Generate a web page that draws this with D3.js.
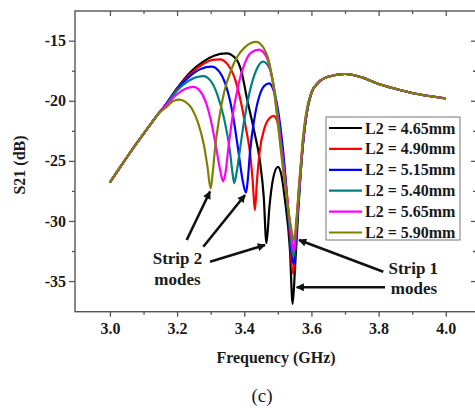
<!DOCTYPE html>
<html>
<head>
<meta charset="utf-8">
<script src="https://cdn.jsdelivr.net/npm/d3@7"></script>
<style>
  html, body { margin: 0; padding: 0; background: #fff; }
  svg { display: block; }
  text { font-family: "Liberation Serif", "Times New Roman", serif; }
</style>
</head>
<body>
<svg id="chart" width="475" height="408"></svg>
<script>
// ---------- data ----------
const seriesLabels = ["L2 = 4.65mm", "L2 = 4.90mm", "L2 = 5.15mm", "L2 = 5.40mm", "L2 = 5.65mm", "L2 = 5.90mm"];
const seriesColors = ["#000000", "#ff0000", "#0000ff", "#008080", "#ff00ff", "#808000"];

// shared low-frequency rise (GHz, dB)
const startFreq = [3.00, 3.025, 3.05, 3.075, 3.10, 3.125, 3.145];
const startS21  = [-26.8, -25.75, -24.72, -23.72, -22.75, -21.8, -21.05];

// shared high-frequency tail (GHz, dB)
const tailFreq = [3.60, 3.62, 3.65, 3.70, 3.75, 3.80, 3.85, 3.90, 3.95, 4.00];
const tailS21  = [-19.35, -18.5, -18.0, -17.77, -18.05, -18.6, -19.0, -19.35, -19.6, -19.8];

// resonance region of each series: [GHz, dB]
const midL465 = [[3.16,-20.55],[3.20,-18.95],[3.24,-17.6],[3.28,-16.7],[3.31,-16.25],[3.347,-16.05],[3.375,-16.5],[3.392,-17.6],[3.407,-19.66],[3.43,-22.6],[3.446,-24.9],[3.458,-28.0],[3.466,-31.85],[3.475,-28.8],[3.485,-26.6],[3.50,-25.5],[3.51,-26.1],[3.521,-28.2],[3.536,-32.4],[3.544,-36.9],[3.551,-34.0],[3.56,-29.5],[3.572,-24.5],[3.585,-21.2]];
const midL490 = [[3.16,-20.55],[3.20,-19.0],[3.24,-17.75],[3.28,-16.9],[3.305,-16.6],[3.327,-16.55],[3.35,-16.95],[3.37,-18.0],[3.39,-20.1],[3.405,-22.3],[3.417,-24.3],[3.425,-26.6],[3.4315,-29.1],[3.438,-26.6],[3.446,-24.2],[3.46,-22.3],[3.475,-21.45],[3.488,-21.26],[3.50,-21.9],[3.513,-23.8],[3.528,-28.0],[3.546,-34.4],[3.553,-31.5],[3.562,-27.5],[3.572,-24.3],[3.585,-21.2]];
const midL515 = [[3.16,-20.55],[3.20,-19.05],[3.24,-17.9],[3.27,-17.35],[3.303,-17.15],[3.325,-17.55],[3.345,-18.7],[3.365,-21.0],[3.382,-24.1],[3.395,-26.6],[3.405,-27.65],[3.411,-26.4],[3.417,-24.3],[3.43,-21.5],[3.445,-19.6],[3.46,-18.75],[3.474,-18.55],[3.488,-19.2],[3.50,-20.7],[3.515,-24.0],[3.53,-29.0],[3.547,-33.6],[3.555,-31.0],[3.565,-27.0],[3.575,-23.5],[3.59,-20.4]];
const midL540 = [[3.16,-20.6],[3.20,-19.15],[3.24,-18.25],[3.278,-17.95],[3.30,-18.35],[3.32,-19.5],[3.34,-21.5],[3.357,-24.1],[3.365,-26.0],[3.370,-26.85],[3.377,-26.0],[3.387,-24.1],[3.40,-21.6],[3.415,-19.4],[3.435,-17.5],[3.456,-16.75],[3.475,-17.3],[3.49,-19.1],[3.505,-22.3],[3.52,-26.2],[3.535,-30.4],[3.547,-33.0],[3.555,-30.6],[3.565,-27.0],[3.575,-23.5],[3.59,-20.4]];
const midL565 = [[3.16,-20.6],[3.20,-19.45],[3.225,-19.0],[3.248,-18.85],[3.27,-19.25],[3.29,-20.5],[3.305,-22.2],[3.3175,-24.1],[3.33,-26.0],[3.337,-26.7],[3.344,-26.0],[3.352,-24.1],[3.365,-21.3],[3.38,-19.0],[3.40,-17.0],[3.42,-16.0],[3.444,-15.75],[3.465,-16.3],[3.48,-17.7],[3.495,-20.4],[3.51,-23.9],[3.525,-27.5],[3.538,-30.6],[3.548,-32.5],[3.556,-30.0],[3.565,-26.8],[3.575,-23.3],[3.59,-20.3]];
const midL590 = [[3.165,-20.6],[3.19,-20.0],[3.207,-19.9],[3.225,-20.1],[3.245,-20.7],[3.262,-21.8],[3.28,-23.7],[3.29,-25.4],[3.30,-27.3],[3.306,-26.0],[3.3125,-24.1],[3.325,-21.5],[3.34,-19.3],[3.36,-17.5],[3.38,-16.3],[3.40,-15.6],[3.42,-15.2],[3.435,-15.1],[3.455,-15.5],[3.475,-16.9],[3.49,-19.4],[3.50,-21.9],[3.51,-24.4],[3.525,-27.8],[3.538,-30.3],[3.548,-31.6],[3.556,-29.6],[3.565,-26.5],[3.575,-23.0],[3.59,-20.2]];
const midParts = [midL465, midL490, midL515, midL540, midL565, midL590];

const xMajorTicks = [3.0, 3.2, 3.4, 3.6, 3.8, 4.0];
const xMinorTicks = [3.1, 3.3, 3.5, 3.7, 3.9];
const yMajorTicks = [-35, -30, -25, -20, -15];
const yMinorTicks = [-32.5, -27.5, -22.5, -17.5];

// ---------- layout ----------
const svg = d3.select("#chart");
svg.append("rect").attr("width", 475).attr("height", 408).attr("fill", "#fff");

const L = 75, R = 476, T = 11, B = 311.7;
const x = d3.scaleLinear().domain([2.896, 4.09]).range([L, R]);
const y = d3.scaleLinear().domain([-37.55, -12.53]).range([B, T]);

const tickFont = "bold 16px 'Liberation Serif', 'Times New Roman', serif";
const axisColor = "#555";

function styleAxis(g) {
  g.select(".domain").remove();
  g.selectAll(".tick line").attr("stroke", axisColor).attr("stroke-width", 1.3);
  g.selectAll(".tick text").attr("fill", "#1a1a1a").style("font", tickFont);
}

// bottom axis
const gB = svg.append("g").attr("transform", `translate(0,${B})`)
  .call(d3.axisBottom(x).tickValues(xMajorTicks).tickSize(5).tickPadding(6).tickFormat(d3.format(".1f")));
styleAxis(gB);
const gBm = svg.append("g").attr("transform", `translate(0,${B})`)
  .call(d3.axisBottom(x).tickValues(xMinorTicks).tickSize(3).tickFormat(""));
styleAxis(gBm);
// top axis (ticks inward)
const gT = svg.append("g").attr("transform", `translate(0,${T})`)
  .call(d3.axisBottom(x).tickValues(xMajorTicks).tickSize(5).tickFormat(""));
styleAxis(gT);
const gTm = svg.append("g").attr("transform", `translate(0,${T})`)
  .call(d3.axisBottom(x).tickValues(xMinorTicks).tickSize(3).tickFormat(""));
styleAxis(gTm);
// left axis
const gL = svg.append("g").attr("transform", `translate(${L},0)`)
  .call(d3.axisLeft(y).tickValues(yMajorTicks).tickSize(6).tickPadding(3).tickFormat(d3.format("d")));
styleAxis(gL);
gL.selectAll(".tick text").text(d => "-" + Math.abs(d));
const gLm = svg.append("g").attr("transform", `translate(${L},0)`)
  .call(d3.axisLeft(y).tickValues(yMinorTicks).tickSize(3).tickFormat(""));
styleAxis(gLm);
// right axis (ticks inward)
const gR = svg.append("g").attr("transform", `translate(${R},0)`)
  .call(d3.axisLeft(y).tickValues(yMajorTicks).tickSize(5).tickFormat(""));
styleAxis(gR);
const gRm = svg.append("g").attr("transform", `translate(${R},0)`)
  .call(d3.axisLeft(y).tickValues(yMinorTicks).tickSize(3).tickFormat(""));
styleAxis(gRm);

// frame
svg.append("rect").attr("x", L).attr("y", T).attr("width", R - L).attr("height", B - T)
  .attr("fill", "none").attr("stroke", axisColor).attr("stroke-width", 1.4);

// axis titles
svg.append("text").attr("transform", "translate(19,165) rotate(-90)")
  .attr("text-anchor", "middle").attr("dominant-baseline", "central")
  .style("font", tickFont).attr("fill", "#1a1a1a").text("S21 (dB)");
svg.append("text").attr("x", 276).attr("y", 363).attr("text-anchor", "middle")
  .style("font", tickFont).attr("fill", "#1a1a1a").text("Frequency (GHz)");
svg.append("text").attr("x", 262).attr("y", 402).attr("text-anchor", "middle")
  .style("font", "19px 'Liberation Serif', 'Times New Roman', serif").attr("fill", "#1a1a1a").text("(c)");

// ---------- curves ----------
const line = d3.line().x(d => x(d[0])).y(d => y(d[1])).curve(d3.curveMonotoneX);
const startPts = startFreq.map((f, i) => [f, startS21[i]]);
const tailPts = tailFreq.map((f, i) => [f, tailS21[i]]);

const clip = svg.append("clipPath").attr("id", "plotclip");
clip.append("rect").attr("x", L).attr("y", T).attr("width", R - L).attr("height", B - T);
const gCurves = svg.append("g").attr("clip-path", "url(#plotclip)");
midParts.forEach((mid, i) => {
  gCurves.append("path")
    .datum(startPts.concat(mid, tailPts))
    .attr("d", line)
    .attr("fill", "none")
    .attr("stroke", seriesColors[i])
    .attr("stroke-width", 2.2)
    .attr("stroke-linejoin", "round");
});

// ---------- legend ----------
const lg = svg.append("g");
lg.append("rect").attr("x", 326).attr("y", 117).attr("width", 134).attr("height", 123)
  .attr("fill", "#fff").attr("stroke", "#777").attr("stroke-width", 1);
seriesLabels.forEach((lab, i) => {
  const yy = 128 + i * 20.9;
  lg.append("line").attr("x1", 329).attr("x2", 362).attr("y1", yy).attr("y2", yy)
    .attr("stroke", seriesColors[i]).attr("stroke-width", 2.2);
  lg.append("text").attr("x", 365).attr("y", yy).attr("dominant-baseline", "central")
    .style("font", tickFont).attr("fill", "#1a1a1a").text(lab);
});

// ---------- annotations ----------
const defs = svg.append("defs");
defs.append("marker").attr("id", "ah").attr("viewBox", "0 0 10 10")
  .attr("refX", 9).attr("refY", 5).attr("markerWidth", 9).attr("markerHeight", 8)
  .attr("markerUnits", "userSpaceOnUse").attr("orient", "auto")
  .append("path").attr("d", "M0,0 L10,5 L0,10 Z").attr("fill", "#111");

const arrows = [
  [186.7, 240, 210, 191.5],
  [203.3, 246.7, 245, 195],
  [210, 261.7, 265, 245],
  [383.3, 271.7, 299, 240],
  [385, 287.3, 296.7, 287.3]
];
arrows.forEach(a => {
  svg.append("line").attr("x1", a[0]).attr("y1", a[1]).attr("x2", a[2]).attr("y2", a[3])
    .attr("stroke", "#111").attr("stroke-width", 2.6).attr("marker-end", "url(#ah)");
});

const annFont = "bold 17px 'Liberation Serif', 'Times New Roman', serif";
[["Strip 2", 177.5, 258.3], ["modes", 177.5, 279], ["Strip 1", 413.3, 268.3], ["modes", 414, 288.3]]
  .forEach(t => {
    svg.append("text").attr("x", t[1]).attr("y", t[2]).attr("text-anchor", "middle")
      .attr("dominant-baseline", "central").style("font", annFont).attr("fill", "#1a1a1a").text(t[0]);
  });
</script>
</body>
</html>
